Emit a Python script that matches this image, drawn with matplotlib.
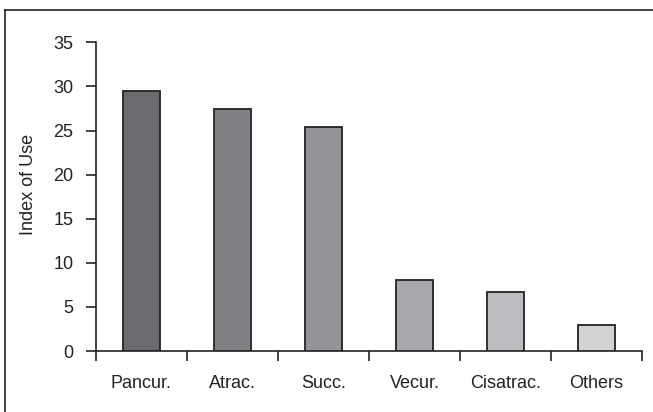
import matplotlib
import matplotlib.pyplot as plt
from matplotlib.lines import Line2D

matplotlib.use("Agg")

categories = ["Pancur.", "Atrac.", "Succ.", "Vecur.", "Cisatrac.", "Others"]
values = [29.5, 27.4, 25.4, 8.1, 6.7, 3.0]
colors = ["#6a6b6f", "#808184", "#949599", "#a7a8ab", "#bcbdc0", "#d2d3d5"]

plt.rcParams["font.family"] = ["Liberation Sans", "DejaVu Sans"]

W, H = 653, 412
fig = plt.figure(figsize=(W / 100, H / 100), dpi=100)
ax = fig.add_axes([95.7 / W, 1 - 351 / H, (642 - 95.7) / W, (351 - 42.3) / H])

x = range(len(categories))
ax.bar(x, values, width=0.41, color=colors, edgecolor="#222222", linewidth=1.3, zorder=3)

ax.set_xlim(-0.5, len(categories) - 0.5)
ax.set_ylim(0, 35)
ax.set_yticks(range(0, 36, 5))
ax.set_xticks([i + 0.5 for i in range(-1, len(categories))], minor=False)
ax.set_xticklabels([])
ax.set_xticks(list(x), minor=True)
ax.set_xticklabels(categories, minor=True)
ax.tick_params(axis="x", which="major", direction="out", length=7, width=1.2, color="#222222")
ax.tick_params(axis="x", which="minor", length=0, pad=17, labelsize=13, labelcolor="#222222")
ax.tick_params(axis="y", direction="out", length=7, width=1.2, color="#222222",
               labelsize=13, labelcolor="#222222", pad=9)

for side in ("top", "right"):
    ax.spines[side].set_visible(False)
for side in ("left", "bottom"):
    ax.spines[side].set_linewidth(1.2)
    ax.spines[side].set_color("#222222")

ax.set_ylabel("Index of Use", fontsize=13, color="#222222")
ax.yaxis.set_label_coords(-0.107, 0.538)

# outer frame (only left and top edges show in the crop)
fig.add_artist(Line2D([5 / W, 5 / W], [0, 1 - 10 / H], transform=fig.transFigure,
                      color="#222222", linewidth=1.2))
fig.add_artist(Line2D([5 / W, 1], [1 - 10 / H, 1 - 10 / H], transform=fig.transFigure,
                      color="#222222", linewidth=1.2))

fig.savefig("out.png", dpi=100)
